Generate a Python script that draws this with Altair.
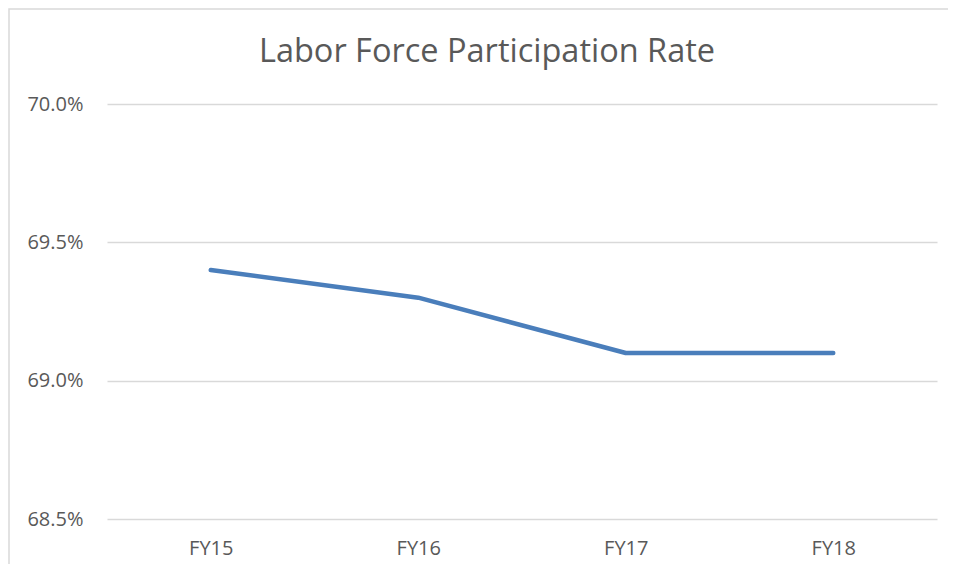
import altair as alt
import pandas as pd

years = ["FY15", "FY16", "FY17", "FY18"]
rates = [0.694, 0.693, 0.691, 0.691]
y_ticks = [0.685, 0.690, 0.695, 0.700]
title_text = ["Labor Force Participation Rate"]

df = pd.DataFrame({"year": years, "rate": rates})

FONT = "Open Sans"
TXT = "#595959"

border = alt.Chart(pd.DataFrame({"a": [0]})).mark_rect(
    fill=None, stroke="#d9d9d9", strokeWidth=1.5, clip=False
).encode(
    x=alt.value(-98), x2=alt.value(845),
    y=alt.value(-95), y2=alt.value(470)
)

title = alt.Chart(pd.DataFrame({"t": title_text})).mark_text(
    font=FONT, fontSize=32.5, color=TXT, align="center", baseline="alphabetic", clip=False
).encode(
    text="t:N", x=alt.value(380), y=alt.value(-42)
)

line = alt.Chart(df).mark_line(
    color="#4A7EBB", strokeWidth=4.5, strokeCap="round", strokeJoin="round"
).encode(
    x=alt.X("year:N", sort=years,
            axis=alt.Axis(title=None, labelAngle=0, labelFont=FONT, labelFontSize=20,
                          labelColor=TXT, ticks=False, domain=False, labelPadding=19,
                          grid=False)),
    y=alt.Y("rate:Q", scale=alt.Scale(domain=[0.685, 0.700], nice=False, zero=False),
            axis=alt.Axis(title=None, values=y_ticks, format=".1%", labelFont=FONT,
                          labelFontSize=20, labelColor=TXT, ticks=False, domain=False,
                          labelPadding=24, gridColor="#d9d9d9", gridWidth=1.5))
)

chart = alt.layer(border, title, line).properties(
    width=830, height=415,
    autosize=alt.AutoSizeParams(type="none"),
    padding={"left": 99, "top": 96, "right": 11, "bottom": 45},
).configure_view(stroke=None).configure_scale(bandPaddingInner=0, bandPaddingOuter=0)

chart.save("out.html", embed_options={"renderer": "svg", "actions": False})
